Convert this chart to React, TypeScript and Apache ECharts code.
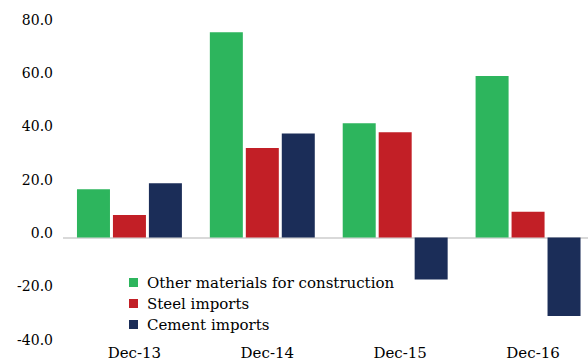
import React, { useEffect, useRef } from "react";
import * as echarts from "echarts";

// Year-on-year change, %
const categories = ["Dec-13", "Dec-14", "Dec-15", "Dec-16"];
const otherMaterials = [18.1, 76.9, 42.8, 60.5];
const steelImports = [8.4, 33.5, 39.4, 9.7];
const cementImports = [20.3, 39.0, -15.7, -29.4];
const seriesNames = ["Other materials for construction", "Steel imports", "Cement imports"];
const yTicks = { min: -40, max: 80, interval: 20 };

const FONT = "DejaVu Serif";

export default function App() {
  const ref = useRef<HTMLDivElement>(null);

  useEffect(() => {
    if (!ref.current) return;
    const chart = echarts.init(ref.current, null, { renderer: "svg" });
    const bar = (name: string, data: number[], color: string, extra: any = {}) => ({
      name,
      type: "bar",
      data,
      barWidth: 33,
      barGap: "9%",
      itemStyle: { color },
      ...extra,
    });
    chart.setOption({
      animation: false,
      textStyle: { fontFamily: FONT },
      grid: { left: 63, right: 5.5, top: 24, bottom: 16.7 },
      legend: {
        orient: "vertical",
        left: 124,
        top: 270,
        itemWidth: 9,
        itemHeight: 9,
        itemGap: 6,
        icon: "rect",
        textStyle: { fontFamily: FONT, fontSize: 15, color: "#000", padding: [0, 0, 0, 4] },
        data: seriesNames,
      },
      xAxis: {
        type: "category",
        data: categories,
        axisLine: { show: false, onZero: false },
        axisTick: { show: false },
        axisLabel: {
          fontFamily: FONT,
          fontSize: 15,
          color: "#000",
          margin: 1,
          padding: [0, 0, 0, 10],
        },
      },
      yAxis: {
        type: "value",
        min: yTicks.min,
        max: yTicks.max,
        interval: yTicks.interval,
        splitLine: { show: false },
        axisLine: { show: false },
        axisTick: { show: false },
        axisLabel: {
          fontFamily: FONT,
          fontSize: 14,
          color: "#000",
          margin: 10,
          verticalAlign: "bottom",
          lineHeight: 9,
          formatter: (v: number) => v.toFixed(1),
        },
      },
      series: [
        bar(seriesNames[0], otherMaterials, "#2db55d", {
          markLine: {
            silent: true,
            symbol: "none",
            label: { show: false },
            lineStyle: { color: "#d9d9d9", width: 2, type: "solid" },
            data: [{ yAxis: 0 }],
            z: 1,
          },
        }),
        bar(seriesNames[1], steelImports, "#c21f26"),
        bar(seriesNames[2], cementImports, "#1b2d58"),
      ],
    });
    return () => chart.dispose();
  }, []);

  return (
    <div style={{ position: "fixed", left: 0, top: 0, width: 588, height: 361, overflow: "hidden", background: "#fff" }}>
      <div ref={ref} style={{ width: 600, height: 361 }} />
    </div>
  );
}
